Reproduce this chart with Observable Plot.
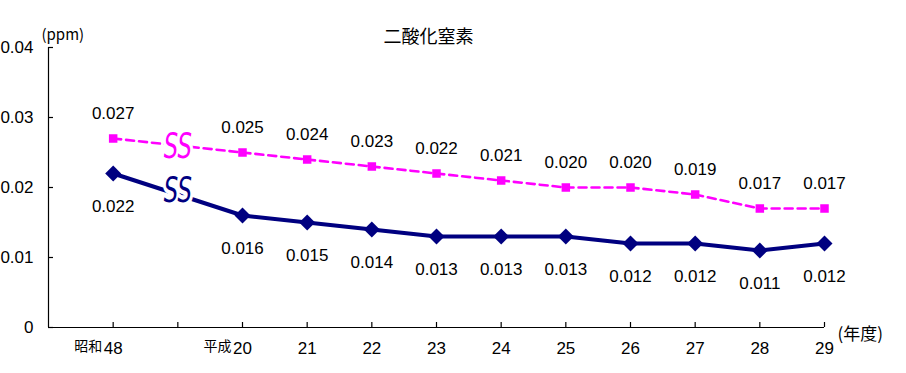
<!DOCTYPE html>
<html><head><meta charset="utf-8">
<script src="https://cdn.jsdelivr.net/npm/d3@7"></script>
<script src="https://cdn.jsdelivr.net/npm/@observablehq/plot@0.6"></script>
<style>
html,body{margin:0;padding:0;background:#fff;}
</style>
</head><body>
<div id="chart"></div>
<script>
// Categories (era prefix + year); "" marks the axis break slot
const eras = ["昭和", "", "平成", "", "", "", "", "", "", "", "", ""];
const years = ["48", "", "20", "21", "22", "23", "24", "25", "26", "27", "28", "29"];
// Series values (ppm); null at the break slot
const pinkValues = [0.027, null, 0.025, 0.024, 0.023, 0.022, 0.021, 0.020, 0.020, 0.019, 0.017, 0.017];
const navyValues = [0.022, null, 0.016, 0.015, 0.014, 0.013, 0.013, 0.013, 0.012, 0.012, 0.011, 0.012];
const yTicks = [0, 0.01, 0.02, 0.03, 0.04];
const title = "二酸化窒素";
const yUnit = "(ppm)";
const xUnit = "(年度)";

const rows = years.map((y, i) => ({i: i + 1, era: eras[i], year: y, pink: pinkValues[i], navy: navyValues[i]}));
const pinkRows = rows.filter(d => d.pink != null);
const navyRows = rows.filter(d => d.navy != null);
const breakRows = rows.filter(d => d.pink == null).map(d => ({
  i: d.i,
  pink: (pinkValues[d.i - 2] + pinkValues[d.i]) / 2,
  navy: (navyValues[d.i - 2] + navyValues[d.i]) / 2
}));
const tickRows = rows.filter(d => d.i >= 1);

const font = "'Liberation Sans', Arial, sans-serif";
const jfont = "'Noto Sans CJK JP', sans-serif";
const fmt = v => v === 0 ? "0" : v.toFixed(2);
const fmt3 = v => v.toFixed(3);
const NAVY = "#000080", PINK = "#FF00FF";

const chart = Plot.plot({
  width: 906,
  height: 373,
  marginLeft: 48,
  marginRight: 82,
  marginTop: 47,
  marginBottom: 46,
  style: {fontFamily: font, background: "#fff"},
  x: {type: "linear", domain: [0, 12], axis: null},
  y: {domain: [0, 0.04], axis: null},
  marks: [
    // axes lines
    Plot.ruleX([0], {y1: 0, y2: 0.04, stroke: "#000", strokeWidth: 1.2}),
    Plot.ruleY([0], {x1: 0, x2: 12, stroke: "#000", strokeWidth: 1.2}),
    // y ticks (inward)
    Plot.ruleY(yTicks, {x1: 0, x2: 5 / 64.67, stroke: "#000", strokeWidth: 1.2}),
    Plot.text(yTicks, {x: 0, y: d => d, text: fmt, textAnchor: "end", dx: -15, fontSize: 17, fill: "#000"}),
    // x ticks (inward)
    Plot.ruleX(tickRows, {x: "i", y1: 0, y2: 5 / 7000, stroke: "#000", strokeWidth: 1.2}),
    Plot.text(rows, {x: "i", y: 0, text: "year", dy: 21, fontSize: 17, fill: "#000"}),
    Plot.text(rows.filter(d => d.era), {x: "i", y: 0, text: "era", dy: 19, dx: -11, textAnchor: "end", fontSize: 14, fontFamily: jfont, fill: "#000"}),
    // unit labels & title
    Plot.text([xUnit], {frameAnchor: "bottom-right", text: d => d, textAnchor: "start", dx: 13, dy: 12, fontSize: 17, fontFamily: jfont, fill: "#000"}),
    Plot.text([yUnit], {frameAnchor: "top-left", text: d => d, textAnchor: "start", dx: -7, dy: -18, fontSize: 15, fontFamily: jfont, fill: "#000"}),
    Plot.text([title], {frameAnchor: "top", text: d => d, dx: -8, dy: -17, fontSize: 18, fontFamily: jfont, fill: "#000", letterSpacing: "5px"}),
    // pink dashed line
    Plot.line(pinkRows, {x: "i", y: "pink", stroke: PINK, strokeWidth: 2.6, strokeDasharray: "8,5"}),
    // navy line
    Plot.line(navyRows, {x: "i", y: "navy", stroke: NAVY, strokeWidth: 4}),
    // break symbols
    Plot.text(breakRows, {x: "i", y: "pink", text: () => "SS", fontSize: 24, fontFamily: "'DejaVu Sans'", fontWeight: 200, fill: PINK, stroke: "#fff", strokeWidth: 6, paintOrder: "stroke", fontStyle: "italic", dy: 1}),
    Plot.text(breakRows, {x: "i", y: "navy", text: () => "SS", fontSize: 24, fontFamily: "'DejaVu Sans'", fontWeight: 400, fill: NAVY, stroke: "#fff", strokeWidth: 6, paintOrder: "stroke", fontStyle: "italic", dy: -4}),
    // markers
    Plot.dot(pinkRows, {x: "i", y: "pink", symbol: "square", r: 4.8, fill: PINK}),
    Plot.dot(navyRows, {x: "i", y: "navy", symbol: "diamond2", r: 7.2, fill: NAVY}),
    // value labels
    Plot.text(pinkRows, {x: "i", y: "pink", text: d => fmt3(d.pink), dy: -25, fontSize: 17, fill: "#000"}),
    Plot.text(navyRows, {x: "i", y: "navy", text: d => fmt3(d.navy), dy: 33, fontSize: 17, fill: "#000"})
  ]
});
// stretch the break symbols vertically
d3.select(chart).selectAll("text").filter(function () { return this.textContent === "SS"; })
  .each(function () {
    const t = d3.select(this).attr("transform") || "";
    d3.select(this).attr("transform", t + " scale(0.95,1.45)");
  });
document.getElementById("chart").appendChild(chart);
</script>
</body></html>
